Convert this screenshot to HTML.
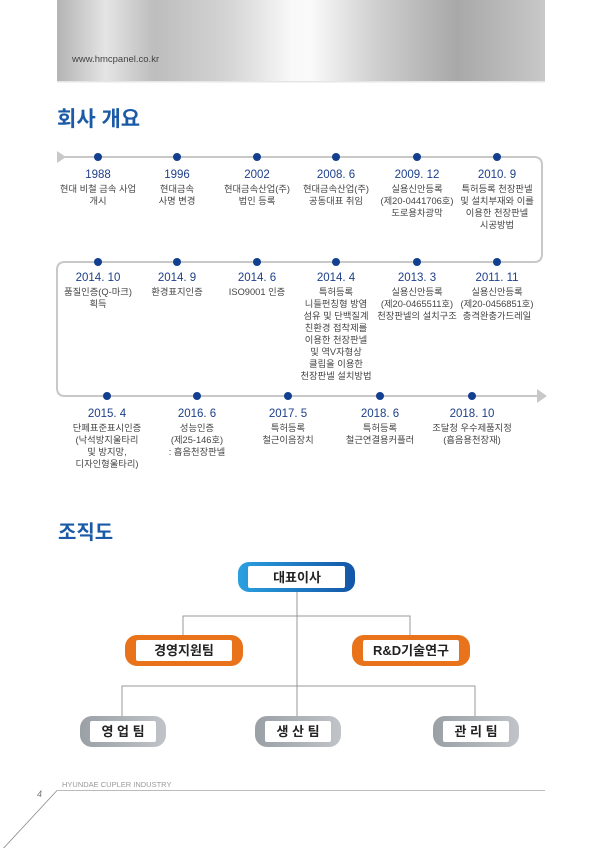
<!DOCTYPE html>
<html><head><meta charset="utf-8"><style>
html,body{margin:0;padding:0;background:#fff;width:600px;height:848px;overflow:hidden}
svg{display:block}
text{font-family:"Liberation Sans","Noto Sans CJK KR",sans-serif}
.y{fill:#1c3f8a;font-size:11.5px;font-weight:normal;text-anchor:middle}
.d{fill:#444;font-size:9.3px;text-anchor:middle}
.b{font-size:13px;font-weight:600;text-anchor:middle;fill:#222}
</style></head><body>
<svg width="600" height="848" viewBox="0 0 600 848" xmlns="http://www.w3.org/2000/svg">
<defs>
<linearGradient id="hg" x1="0" x2="1" y1="0" y2="0">
<stop offset="0" stop-color="#b4b4b4"/><stop offset="0.1" stop-color="#e4e4e4"/><stop offset="0.2" stop-color="#bdbdbd"/><stop offset="0.35" stop-color="#d4d4d4"/><stop offset="0.48" stop-color="#f8f8f8"/><stop offset="0.52" stop-color="#fafafa"/><stop offset="0.65" stop-color="#d0d0d0"/><stop offset="0.82" stop-color="#a8a8a8"/><stop offset="1" stop-color="#c8c8c8"/>
</linearGradient>
<linearGradient id="bg" x1="0" x2="1"><stop offset="0" stop-color="#2aa0e0"/><stop offset="1" stop-color="#1356a8"/></linearGradient>
<linearGradient id="gg" x1="0" x2="1"><stop offset="0" stop-color="#9aa0a6"/><stop offset="1" stop-color="#c0c4c8"/></linearGradient>
</defs>
<rect x="57" y="0" width="488" height="82" fill="url(#hg)"/>
<rect x="57" y="81" width="488" height="1.5" fill="#e6e6e6"/>
<text x="72" y="62" font-size="9.5" fill="#444">www.hmcpanel.co.kr</text>
<text x="57" y="126" font-size="21" font-weight="bold" fill="#1a5aa6">회사 개요</text>

<path d="M60 157 H534 Q542 157 542 165 V254 Q542 262 534 262 H65 Q57 262 57 270 V388 Q57 396 65 396 H538" fill="none" stroke="#c8c8c8" stroke-width="2"/>
<polygon points="57,151 66,157 57,163" fill="#c8c8c8"/>
<polygon points="537,389 547,396 537,403" fill="#c8c8c8"/>
<g fill="#123f8f">
<circle cx="98" cy="157" r="4"/><circle cx="177" cy="157" r="4"/><circle cx="257" cy="157" r="4"/><circle cx="336" cy="157" r="4"/><circle cx="417" cy="157" r="4"/><circle cx="497" cy="157" r="4"/>
<circle cx="98" cy="262" r="4"/><circle cx="177" cy="262" r="4"/><circle cx="257" cy="262" r="4"/><circle cx="336" cy="262" r="4"/><circle cx="417" cy="262" r="4"/><circle cx="497" cy="262" r="4"/>
<circle cx="107" cy="396" r="4"/><circle cx="197" cy="396" r="4"/><circle cx="288" cy="396" r="4"/><circle cx="380" cy="396" r="4"/><circle cx="472" cy="396" r="4"/>
</g>
<text class="y" x="98" y="178">1988</text><text class="d" x="98" y="192">현대 비철 금속 사업</text><text class="d" x="98" y="204">개시</text>
<text class="y" x="177" y="178">1996</text><text class="d" x="177" y="192">현대금속</text><text class="d" x="177" y="204">사명 변경</text>
<text class="y" x="257" y="178">2002</text><text class="d" x="257" y="192">현대금속산업(주)</text><text class="d" x="257" y="204">법인 등록</text>
<text class="y" x="336" y="178">2008. 6</text><text class="d" x="336" y="192">현대금속산업(주)</text><text class="d" x="336" y="204">공동대표 취임</text>
<text class="y" x="417" y="178">2009. 12</text><text class="d" x="417" y="192">실용신안등록</text><text class="d" x="417" y="204">(제20-0441706호)</text><text class="d" x="417" y="216">도로용차광막</text>
<text class="y" x="497" y="178">2010. 9</text><text class="d" x="497" y="192">특허등록 천장판넬</text><text class="d" x="497" y="204">및 설치부재와 이를</text><text class="d" x="497" y="216">이용한 천장판넬</text><text class="d" x="497" y="228">시공방법</text>

<text class="y" x="98" y="281">2014. 10</text><text class="d" x="98" y="295">품질인증(Q-마크)</text><text class="d" x="98" y="307">획득</text>
<text class="y" x="177" y="281">2014. 9</text><text class="d" x="177" y="295">환경표지인증</text>
<text class="y" x="257" y="281">2014. 6</text><text class="d" x="257" y="295">ISO9001 인증</text>
<text class="y" x="336" y="281">2014. 4</text><text class="d" x="336" y="295">특허등록</text><text class="d" x="336" y="307">니들펀칭형 방염</text><text class="d" x="336" y="319">섬유 및 단백질계</text><text class="d" x="336" y="331">친환경 접착제를</text><text class="d" x="336" y="343">이용한 천장판넬</text><text class="d" x="336" y="355">및 역V자형상</text><text class="d" x="336" y="367">클립을 이용한</text><text class="d" x="336" y="379">천장판넬 설치방법</text>
<text class="y" x="417" y="281">2013. 3</text><text class="d" x="417" y="295">실용신안등록</text><text class="d" x="417" y="307">(제20-0465511호)</text><text class="d" x="417" y="319">천장판넬의 설치구조</text>
<text class="y" x="497" y="281">2011. 11</text><text class="d" x="497" y="295">실용신안등록</text><text class="d" x="497" y="307">(제20-0456851호)</text><text class="d" x="497" y="319">충격완충가드레일</text>

<text class="y" x="107" y="417">2015. 4</text><text class="d" x="107" y="431">단페표준표시인증</text><text class="d" x="107" y="443">(낙석방지울타리</text><text class="d" x="107" y="455">및 방지망,</text><text class="d" x="107" y="467">디자인형울타리)</text>
<text class="y" x="197" y="417">2016. 6</text><text class="d" x="197" y="431">성능인증</text><text class="d" x="197" y="443">(제25-146호)</text><text class="d" x="197" y="455">: 흡음천장판넬</text>
<text class="y" x="288" y="417">2017. 5</text><text class="d" x="288" y="431">특허등록</text><text class="d" x="288" y="443">철근이음장치</text>
<text class="y" x="380" y="417">2018. 6</text><text class="d" x="380" y="431">특허등록</text><text class="d" x="380" y="443">철근연결용커플러</text>
<text class="y" x="472" y="417">2018. 10</text><text class="d" x="472" y="431">조달청 우수제품지정</text><text class="d" x="472" y="443">(흡음용천장재)</text>

<text x="58" y="539" font-size="20" font-weight="bold" fill="#1a5aa6">조직도</text>

<g stroke="#999" stroke-width="1" fill="none">
<path d="M297 592 V716"/>
<path d="M183 635 V616 H410 V635"/>
<path d="M122 716 V686 H475 V716"/>
</g>
<rect x="238" y="562" width="117" height="30" rx="11" fill="url(#bg)"/>
<rect x="248" y="566" width="97" height="22" rx="2" fill="#fff"/>
<text class="b" x="297" y="582">대표이사</text>
<rect x="125" y="635" width="118" height="31" rx="12" fill="#e8731a"/>
<rect x="136" y="640" width="96" height="21" rx="2" fill="#fff"/>
<text class="b" x="184" y="655">경영지원팀</text>
<rect x="352" y="635" width="118" height="31" rx="12" fill="#e8731a"/>
<rect x="363" y="640" width="96" height="21" rx="2" fill="#fff"/>
<text class="b" x="411" y="655">R&amp;D기술연구</text>
<rect x="80" y="716" width="86" height="31" rx="12" fill="url(#gg)"/>
<rect x="90" y="721" width="66" height="21" rx="2" fill="#fff"/>
<text class="b" x="123" y="736">영 업 팀</text>
<rect x="255" y="716" width="86" height="31" rx="12" fill="url(#gg)"/>
<rect x="265" y="721" width="66" height="21" rx="2" fill="#fff"/>
<text class="b" x="298" y="736">생 산 팀</text>
<rect x="433" y="716" width="86" height="31" rx="12" fill="url(#gg)"/>
<rect x="443" y="721" width="66" height="21" rx="2" fill="#fff"/>
<text class="b" x="476" y="736">관 리 팀</text>

<path d="M57 790.5 H545" stroke="#bbb" stroke-width="1"/>
<path d="M57 790.5 L0 852" stroke="#888" stroke-width="0.8" fill="none"/>
<text x="62" y="787" font-size="7.5" fill="#999">HYUNDAE CUPLER INDUSTRY</text>
<text x="37" y="797" font-size="9" fill="#777" font-style="italic">4</text>
</svg>
</body></html>
